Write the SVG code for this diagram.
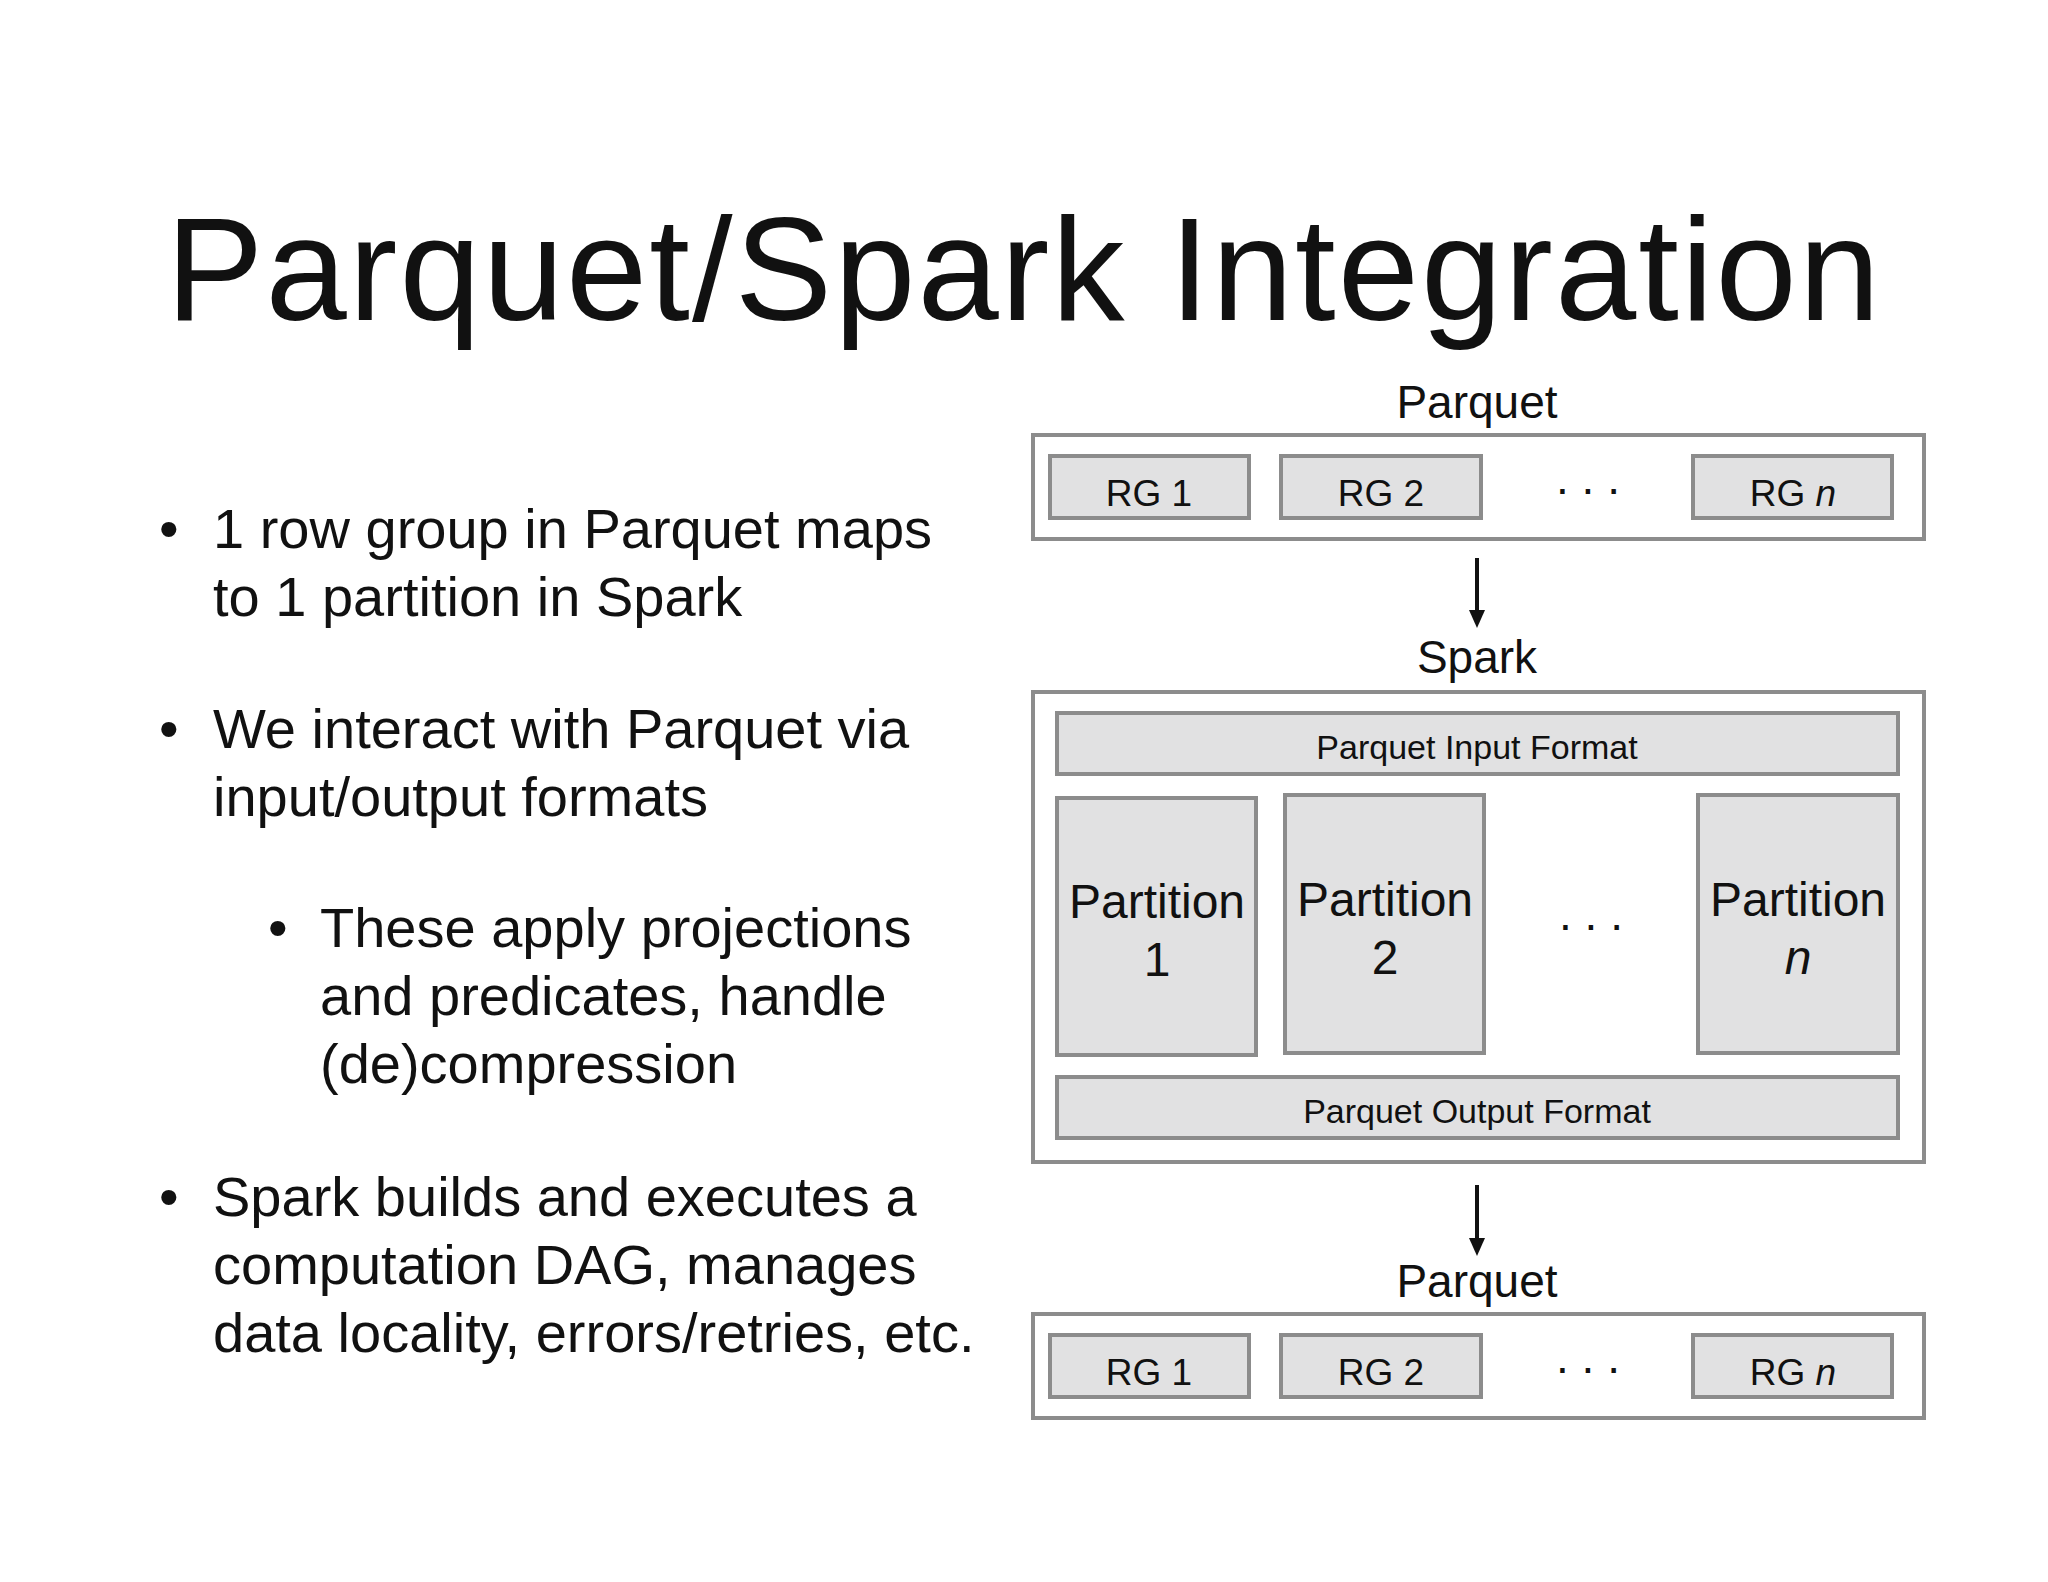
<svg xmlns="http://www.w3.org/2000/svg" width="2048" height="1582" viewBox="0 0 2048 1582">
<style>
text{font-family:"Liberation Sans",Arial,sans-serif;fill:#111}
.frame{fill:#fff;stroke:#8c8c8c;stroke-width:4}
.box{fill:#e1e1e2;stroke:#8c8c8c;stroke-width:4}
.b{font-size:56px}
.lbl{font-size:46px;text-anchor:middle}
.sm{font-size:34px;text-anchor:middle}
.rg{font-size:37px;text-anchor:middle}
.pt{font-size:48px;text-anchor:middle}
.dots{font-size:46px;text-anchor:middle}
.ah{fill:#111}
</style>
<rect width="2048" height="1582" fill="#fff"/>
<text x="166" y="320" font-size="146" textLength="1714">Parquet/Spark Integration</text>
<g id="bullets">
<text class="b" x="159" y="548">•</text><text class="b" x="213" y="548">1 row group in Parquet maps</text>
<text class="b" x="213" y="616">to 1 partition in Spark</text>
<text class="b" x="159" y="748">•</text><text class="b" x="213" y="748">We interact with Parquet via</text>
<text class="b" x="213" y="816">input/output formats</text>
<text class="b" x="268" y="947">•</text><text class="b" x="320" y="947">These apply projections</text>
<text class="b" x="320" y="1015">and predicates, handle</text>
<text class="b" x="320" y="1083">(de)compression</text>
<text class="b" x="159" y="1216">•</text><text class="b" x="213" y="1216">Spark builds and executes a</text>
<text class="b" x="213" y="1284">computation DAG, manages</text>
<text class="b" x="213" y="1352">data locality, errors/retries, etc.</text>
</g>
<g id="parquet-top">
<text class="lbl" x="1477" y="418">Parquet</text>
<rect class="frame" x="1033" y="435" width="891" height="104"/>
<g id="rg1-top"><rect class="box" x="1050" y="456" width="199" height="62"/><text class="rg" x="1149" y="506">RG 1</text></g>
<g id="rg2-top"><rect class="box" x="1281" y="456" width="200" height="62"/><text class="rg" x="1381" y="506">RG 2</text></g>
<text class="dots" x="1588" y="494">. . .</text>
<g id="rgn-top"><rect class="box" x="1693" y="456" width="199" height="62"/><text class="rg" x="1793" y="506">RG <tspan font-style="italic">n</tspan></text></g>
</g>
<g id="connectors">
<line x1="1477" y1="558" x2="1477" y2="612" stroke="#111" stroke-width="4"/>
<polygon class="ah" points="1469,610 1485,610 1477,628"/>
<line x1="1477" y1="1185" x2="1477" y2="1240" stroke="#111" stroke-width="4"/>
<polygon class="ah" points="1469,1238 1485,1238 1477,1256"/>
</g>
<g id="spark">
<text class="lbl" x="1477" y="673">Spark</text>
<rect class="frame" x="1033" y="692" width="891" height="470"/>
<g id="input-format"><rect class="box" x="1057" y="713" width="841" height="61"/><text class="sm" x="1477" y="759">Parquet Input Format</text></g>
<g id="p1"><rect class="box" x="1057" y="798" width="199" height="257"/><text class="pt" x="1157" y="918">Partition</text><text class="pt" x="1157" y="976">1</text></g>
<g id="p2"><rect class="box" x="1285" y="795" width="199" height="258"/><text class="pt" x="1385" y="916">Partition</text><text class="pt" x="1385" y="974">2</text></g>
<text class="dots" x="1591" y="930">. . .</text>
<g id="pn"><rect class="box" x="1698" y="795" width="200" height="258"/><text class="pt" x="1798" y="916">Partition</text><text class="pt" x="1798" y="974" font-style="italic">n</text></g>
<g id="output-format"><rect class="box" x="1057" y="1077" width="841" height="61"/><text class="sm" x="1477" y="1123">Parquet Output Format</text></g>
</g>
<g id="parquet-bottom">
<text class="lbl" x="1477" y="1297">Parquet</text>
<rect class="frame" x="1033" y="1314" width="891" height="104"/>
<g id="rg1-bot"><rect class="box" x="1050" y="1335" width="199" height="62"/><text class="rg" x="1149" y="1385">RG 1</text></g>
<g id="rg2-bot"><rect class="box" x="1281" y="1335" width="200" height="62"/><text class="rg" x="1381" y="1385">RG 2</text></g>
<text class="dots" x="1588" y="1373">. . .</text>
<g id="rgn-bot"><rect class="box" x="1693" y="1335" width="199" height="62"/><text class="rg" x="1793" y="1385">RG <tspan font-style="italic">n</tspan></text></g>
</g>
</svg>
